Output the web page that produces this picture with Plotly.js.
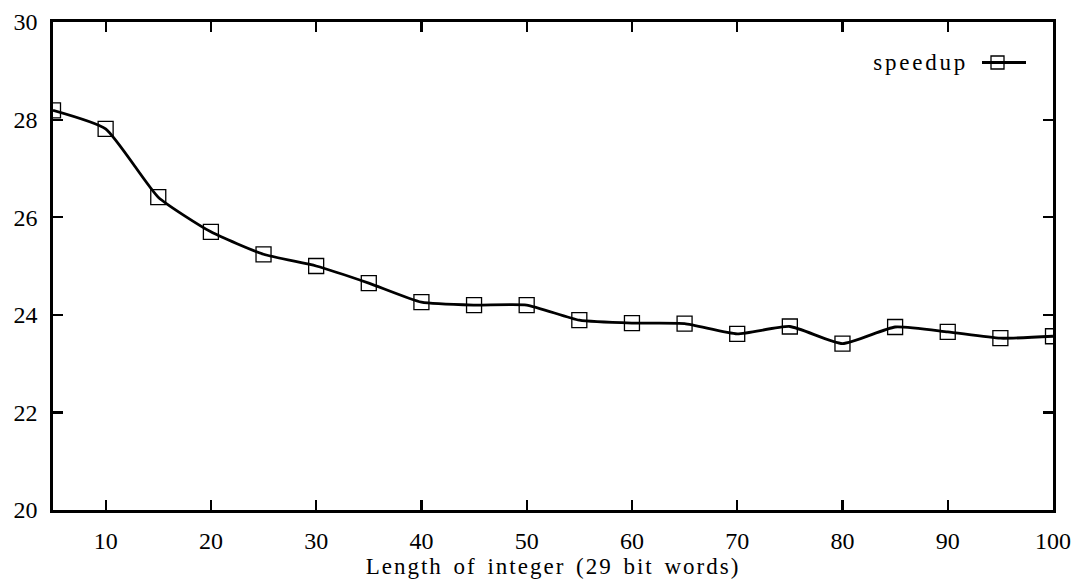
<!DOCTYPE html>
<html>
<head>
<meta charset="utf-8">
<script src="https://cdn.plot.ly/plotly-3.0.1.min.js"></script>
<style>
html,body{margin:0;padding:0;background:#fff;}
#chart{width:1073px;height:582px;}
#chart .xtitle{letter-spacing:2px;word-spacing:3px;}
#chart .annotation-text{letter-spacing:2.8px;}
</style>
</head>
<body>
<div id="chart"></div>
<script>
const lengths = [5, 10, 15, 20, 25, 30, 35, 40, 45, 50, 55, 60, 65, 70, 75, 80, 85, 90, 95, 100];
const speedup = [28.19, 27.81, 26.41, 25.70, 25.24, 25.00, 24.65, 24.26, 24.20, 24.20, 23.89, 23.83, 23.82, 23.61, 23.76, 23.41, 23.75, 23.65, 23.52, 23.56];
const xTicks = [10, 20, 30, 40, 50, 60, 70, 80, 90, 100];
const yTicks = [20, 22, 24, 26, 28, 30];
const seriesName = "speedup";
const xTitle = "Length of integer (29 bit words)";

const tickFont = {family: "'Liberation Serif', 'DejaVu Serif', serif", size: 24, color: "#000"};
const textFont = {family: "'Liberation Serif', 'DejaVu Serif', serif", size: 23, color: "#000"};

const traces = [
  {x: lengths, y: speedup, type: "scatter", mode: "lines", name: seriesName,
   line: {color: "#000", width: 2.8, shape: "spline", smoothing: 0.5}, showlegend: false, hoverinfo: "skip"},
  {x: lengths, y: speedup, type: "scatter", mode: "markers", name: seriesName,
   marker: {symbol: "square-open", size: 15, color: "#000", line: {width: 1.3, color: "#000"}}, showlegend: false}
];

const layout = {
  width: 1073, height: 582,
  margin: {l: 53, r: 20, t: 22, b: 72, pad: 0},
  paper_bgcolor: "#fff", plot_bgcolor: "#fff",
  font: tickFont,
  xaxis: {
    range: [5, 100], tickvals: xTicks, ticktext: xTicks.map(String),
    ticks: "inside", ticklen: 10, tickwidth: 2.2, tickcolor: "#000",
    showline: true, linewidth: 2.6, linecolor: "#000", mirror: "allticks",
    showgrid: false, zeroline: false, ticklabelstandoff: 8,
    tickfont: tickFont,
    title: {text: xTitle, font: textFont, standoff: 0}
  },
  yaxis: {
    range: [20, 30], tickvals: yTicks, ticktext: yTicks.map(String),
    ticks: "inside", ticklen: 10, tickwidth: 2.2, tickcolor: "#000",
    showline: true, linewidth: 2.6, linecolor: "#000", mirror: "allticks",
    showgrid: false, zeroline: false, ticklabelstandoff: 8,
    tickfont: tickFont
  },
  annotations: [
    {xref: "paper", yref: "paper", x: 0.828, y: 0.918, xanchor: "left", yanchor: "middle",
     text: seriesName, showarrow: false, font: textFont}
  ],
  shapes: [
    {type: "line", xref: "paper", yref: "paper", x0: 0.929, x1: 0.973, y0: 0.917, y1: 0.917,
     line: {color: "#000", width: 2.8}},
    {type: "rect", xref: "paper", yref: "paper", x0: 0.938, x1: 0.951, y0: 0.9037, y1: 0.9303,
     line: {color: "#000", width: 1.3}, fillcolor: "rgba(0,0,0,0)"}
  ]
};

Plotly.newPlot("chart", traces, layout, {displayModeBar: false, staticPlot: true});
</script>
</body>
</html>
